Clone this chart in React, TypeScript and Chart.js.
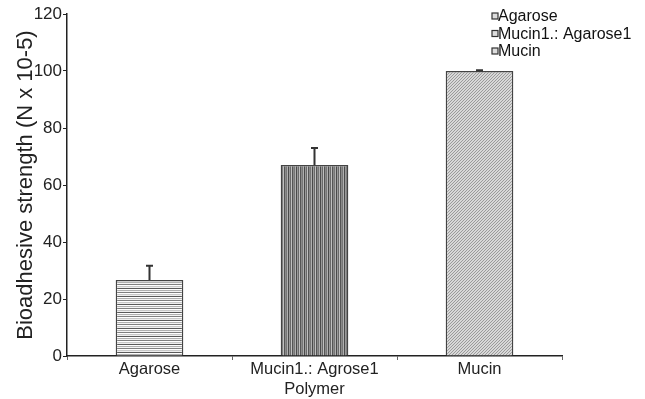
import React, { useEffect, useRef } from "react";
import { Chart, registerables } from "chart.js";

Chart.register(...registerables);

const categories = ["Agarose", "Mucin1.: Agrose1", "Mucin"];
const legendLabels = ["Agarose", "Mucin1.: Agarose1", "Mucin"];
const values = [26.7, 67, 100];
const errors = [5, 6, 0.3];
const yTicks = [0, 20, 40, 60, 80, 100, 120];

const FONT = "'Liberation Sans', Arial, sans-serif";

function makePattern(kind: string): CanvasPattern | string {
  const c = document.createElement("canvas");
  const g = c.getContext("2d")!;
  if (kind === "h") {
    const rows = ["#5a5a5a", "#ffffff", "#b0b0b0", "#f4f4f4", "#808080", "#ffffff", "#c8c8c8", "#eeeeee"];
    c.width = 4; c.height = rows.length;
    rows.forEach((col, i) => { g.fillStyle = col; g.fillRect(0, i, 4, 1); });
  } else if (kind === "v") {
    const cols = ["#4a4a4a", "#9a9a9a", "#6a6a6a", "#c0c0c0", "#555555", "#8a8a8a", "#777777", "#b0b0b0"];
    c.width = cols.length; c.height = 4;
    cols.forEach((col, i) => { g.fillStyle = col; g.fillRect(i, 0, 1, 4); });
  } else {
    c.width = 3; c.height = 3;
    g.fillStyle = "#d8d8d8"; g.fillRect(0, 0, 3, 3);
    g.fillStyle = "#9a9a9a";
    for (let i = 0; i < 3; i++) g.fillRect(i, 2 - i, 1, 1);
  }
  const p = g.createPattern(c, "repeat");
  return p || "#bbb";
}

const errorBarPlugin = {
  id: "errorBars",
  afterDatasetsDraw(chart: any) {
    const meta = chart.getDatasetMeta(0);
    const ys = chart.scales.y;
    const ctx = chart.ctx;
    ctx.save();
    ctx.strokeStyle = "#333";
    ctx.lineWidth = 2;
    meta.data.forEach((bar: any, i: number) => {
      const yb = ys.getPixelForValue(values[i]);
      const yt = ys.getPixelForValue(values[i] + errors[i]);
      ctx.beginPath();
      ctx.moveTo(bar.x, yb);
      ctx.lineTo(bar.x, yt);
      ctx.moveTo(bar.x - 3.5, yt);
      ctx.lineTo(bar.x + 3.5, yt);
      ctx.stroke();
    });
    ctx.restore();
  },
};

const legendPlugin = {
  id: "customLegend",
  afterDraw(chart: any) {
    const ctx = chart.ctx;
    ctx.save();
    ctx.font = "16px " + FONT;
    ctx.textBaseline = "middle";
    legendLabels.forEach((t, i) => {
      const y = 16 + i * 17.5;
      ctx.fillStyle = "#ddd";
      ctx.fillRect(492, y - 3, 6, 6);
      ctx.strokeStyle = "#333";
      ctx.lineWidth = 1.2;
      ctx.strokeRect(492, y - 3, 6, 6);
      ctx.fillStyle = "#111";
      ctx.fillText(t, 498, y + 1);
    });
    ctx.restore();
  },
};

export default function App() {
  const ref = useRef<HTMLCanvasElement>(null);
  useEffect(() => {
    const patterns = [makePattern("h"), makePattern("v"), makePattern("d")];
    const chart = new Chart(ref.current!, {
      type: "bar",
      data: {
        labels: categories,
        datasets: [
          {
            data: values,
            backgroundColor: patterns as any,
            borderColor: "#444",
            borderWidth: 1.5,
            barPercentage: 0.41,
            categoryPercentage: 1,
          },
        ],
      },
      options: {
        responsive: false,
        animation: false,
        layout: { padding: { top: 14, right: 83, left: 0, bottom: 0 } },
        plugins: { legend: { display: false }, tooltip: { enabled: false } },
        scales: {
          x: {
            grid: { display: true, drawOnChartArea: false, offset: true, tickLength: 4, color: "#666" },
            border: { color: "#222", width: 1.5 },
            ticks: { font: { size: 16.5, family: FONT }, color: "#222", padding: 0 },
            title: {
              display: true,
              text: "Polymer",
              font: { size: 16.5, family: FONT },
              color: "#222",
              padding: { top: -3, bottom: 0 },
            },
            afterFit(s: any) { s.height = 43; },
          },
          y: {
            min: 0,
            max: 120,
            afterBuildTicks(s: any) { s.ticks = yTicks.map((v) => ({ value: v })); },
            grid: { display: true, drawOnChartArea: false, tickLength: 4, color: "#222" },
            border: { color: "#222", width: 1.5 },
            ticks: { font: { size: 17, family: FONT }, color: "#222", padding: 1 },
            title: {
              display: true,
              text: "Bioadhesive strength (N x 10-5)",
              font: { size: 22, family: FONT },
              color: "#222",
              padding: { top: 13, bottom: 0 },
            },
            afterFit(s: any) { s.width = 67; },
          },
        },
      },
      plugins: [errorBarPlugin, legendPlugin],
    });
    return () => chart.destroy();
  }, []);
  return (
    <div style={{ position: "fixed", left: 0, top: 0, width: 645, height: 399, background: "#fff" }}>
      <canvas ref={ref} width={645} height={399} />
    </div>
  );
}
